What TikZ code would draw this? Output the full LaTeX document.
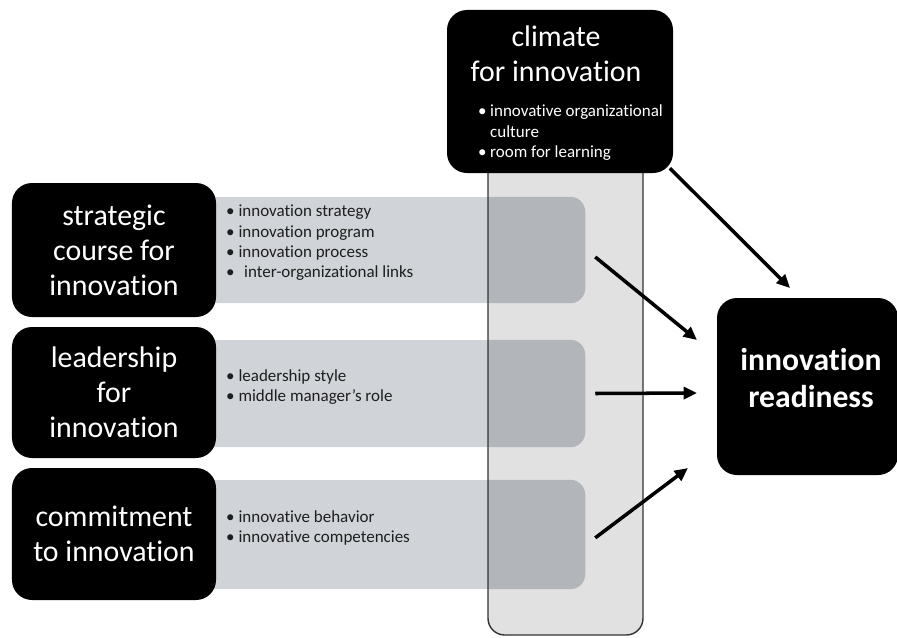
\documentclass[tikz,border=0pt]{standalone}
\usepackage{fontspec}
\setmainfont{Carlito}[Ligatures={TeX,NoCommon}]
\usetikzlibrary{arrows.meta,positioning}
\definecolor{bandgray}{RGB}{208,212,216}
\definecolor{colgray}{RGB}{225,225,225}
\definecolor{overgray}{RGB}{178,182,186}
\definecolor{itemgray}{RGB}{30,30,30}
\newcommand{\bigfont}{\fontsize{25.5}{30}\selectfont}
\newcommand{\itemfont}{\fontsize{14.5}{17.3}\selectfont}
\tikzset{
	blackbox/.style={fill=black,text=white,rounded corners=0.6cm,align=center,font=\bigfont,inner sep=0pt},
	band/.style={fill=bandgray,rounded corners=0.45cm,minimum width=13.05cm,inner sep=0pt},
	items/.style={font=\itemfont,text=itemgray,align=left,inner sep=0pt,anchor=west},
	conn/.style={line width=3pt,-{Triangle[length=0.4cm,width=0.36cm]}},
}
\begin{document}
\begin{tikzpicture}[x=0.03cm,y=-0.03cm]
	\useasboundingbox (0,0) rectangle (897,637);
	\fill[colgray,rounded corners=0.5cm] (488,150) rectangle (643,635);
	\node[band,minimum height=3.18cm] (b1) at (367.5,250) {};
	\node[band,minimum height=3.21cm] (b2) at (367.5,393.5) {};
	\node[band,minimum height=3.27cm] (b3) at (367.5,534.5) {};
	\begin{scope}
		\clip (488,150) rectangle (643,635);
		\fill[overgray,rounded corners=0.45cm] (b1.north west) rectangle (b1.south east);
		\fill[overgray,rounded corners=0.45cm] (b2.north west) rectangle (b2.south east);
		\fill[overgray,rounded corners=0.45cm] (b3.north west) rectangle (b3.south east);
	\end{scope}
	\draw[black!80,line width=1.2pt,rounded corners=0.5cm] (488,150) rectangle (643,635);
	\node[items] (i1) at (226,243) {• innovation strategy\\• innovation program\\• innovation process\\•\,\, inter-organizational links};
	\node[items] (i2) at (226,387) {• leadership style\\• middle manager's role};
	\node[items] (i3) at (226,528) {• innovative behavior\\• innovative competencies};
	\node[blackbox,minimum width=6.12cm,minimum height=4.02cm] (strat) at (114,250) {strategic\\course for\\innovation};
	\node[blackbox,minimum width=6.12cm,minimum height=3.93cm] (lead) at (114,392.5) {leadership\\for\\innovation};
	\node[blackbox,minimum width=6.12cm,minimum height=3.96cm] (commit) at (114,534) {commitment\\to innovation};
	\node[blackbox,minimum width=6.78cm,minimum height=4.89cm] (clim) at (560,91.5) {};
	\node[text=white,font=\bigfont,align=center,inner sep=0pt] (climtitle) at (556,54) {climate\\for innovation};
	\node[items,text=white] (climlist) at (478,133) {\begin{tabular}{@{}l@{\hspace{3pt}}l@{}}•&innovative organizational\\&culture\\•&room for learning\end{tabular}};
	\node[blackbox,minimum width=5.43cm,minimum height=5.31cm] (ready) at (807.5,386.5) {};
	\node[text=white,font=\fontsize{27}{31}\selectfont\bfseries,align=center,inner sep=0pt] (readytext) at (811,378) {innovation\\readiness};
	\coordinate (t0) at (790,288);
	\coordinate (t1) at (697,340);
	\coordinate (t2) at (697,393);
	\coordinate (t3) at (688,468);
	\draw[conn] ([xshift=-0.1cm,yshift=0.15cm]clim.south east) -- (t0);
	\draw[conn] ([xshift=0.3cm,yshift=-0.21cm]b1.east) -- (t1);
	\draw[conn] ([xshift=0.3cm]b2.east) -- (t2);
	\draw[conn] ([xshift=0.3cm,yshift=-0.1cm]b3.east) -- (t3);
\end{tikzpicture}
\end{document}
